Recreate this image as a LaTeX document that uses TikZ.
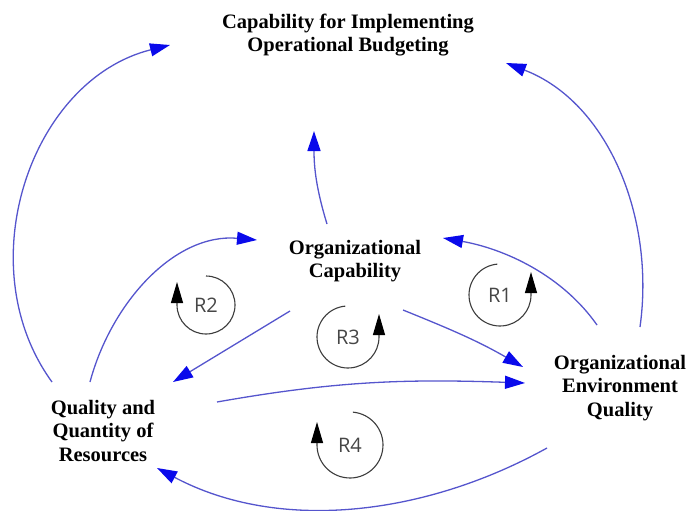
\documentclass[tikz,border=0pt]{standalone}
\usepackage{fontspec}
\setmainfont{Liberation Serif}
\newfontfamily\loopfont{Open Sans}
\usetikzlibrary{arrows.meta}

\definecolor{linkblue}{RGB}{85,85,205}
\definecolor{tipblue}{RGB}{10,10,235}
\definecolor{loopgray}{RGB}{60,60,60}
\definecolor{labelgray}{RGB}{70,70,70}

\begin{document}
\begin{tikzpicture}[x=1pt, y=1pt, concept/.style={align=center, inner sep=0pt, font=\bfseries\fontsize{20.5}{23.5}\selectfont}, link/.style={draw=linkblue, line width=1.3pt, -{Triangle[length=20pt, width=13pt, color=tipblue]}}, loopline/.style={draw=loopgray, line width=1.1pt, -{Triangle[length=21pt, width=12pt, color=black]}}, looplabel/.style={inner sep=0pt, text=labelgray, font=\loopfont\fontsize{20}{20}\selectfont}]

    \useasboundingbox (0,0) rectangle (694,-511);

    \node[concept] (budget) at (348,-35) {Capability for Implementing\\Operational Budgeting};
    \node[concept] (orgcap) at (355,-261) {Organizational\\Capability};
    \node[concept] (envq) at (620,-388) {Organizational\\Environment\\Quality};
    \node[concept] (res) at (103,-431) {Quality and\\Quantity of\\Resources};

    % links up to the budgeting capability
    \draw[link] ([shift={(-51,49)}]res.center) to[out=126, in=194, looseness=1.03] ([shift={(-178,-10)}]budget.center);
    \draw[link] ([shift={(20,61)}]envq.center) to[out=82, in=-21, looseness=0.95] ([shift={(158,-28)}]budget.center);
    \draw[link] ([shift={(-28,37)}]orgcap.center) to[out=107, in=270] ([shift={(-34,-96)}]budget.center);

    % links between the three factors
    \draw[link] ([shift={(-13,49)}]res.center) to[out=75, in=175, looseness=0.96] ([shift={(-98,21)}]orgcap.center);
    \draw[link] ([shift={(-23,63)}]envq.center) to[out=125, in=350, looseness=0.89] ([shift={(88,23)}]orgcap.center);
    \draw[link] ([shift={(-65,-50)}]orgcap.center) -- ([shift={(70,49)}]res.center);
    \draw[link] ([shift={(48,-49)}]orgcap.center) to[out=-22, in=150] ([shift={(-97,21)}]envq.center);
    \draw[link] ([shift={(114,29)}]res.center) to[out=10, in=178] ([shift={(-95,5)}]envq.center);
    \draw[link] ([shift={(-73,-60)}]envq.center) to[out=209, in=332, looseness=0.91] ([shift={(54,-37)}]res.center);

    % reinforcing loop signs
    \node[looplabel] (r1) at (500,-295) {R1};
    \node[looplabel] (r2) at (206,-305) {R2};
    \node[looplabel] (r3) at (348,-337) {R3};
    \node[looplabel] (r4) at (350,-445) {R4};

    \draw[loopline] (r1.center) ++(95:31pt) arc[start angle=95, end angle=360, radius=31pt] -- ++(0,23);
    \draw[loopline] (r3.center) ++(95:31pt) arc[start angle=95, end angle=360, radius=31pt] -- ++(0,23);
    \draw[loopline] (r2.center) ++(90:29pt) arc[start angle=90, end angle=-180, radius=29pt] -- ++(0,23);
    \draw[loopline] (r4.center) ++(85:33pt) arc[start angle=85, end angle=-180, radius=33pt] -- ++(0,23);

\end{tikzpicture}
\end{document}
